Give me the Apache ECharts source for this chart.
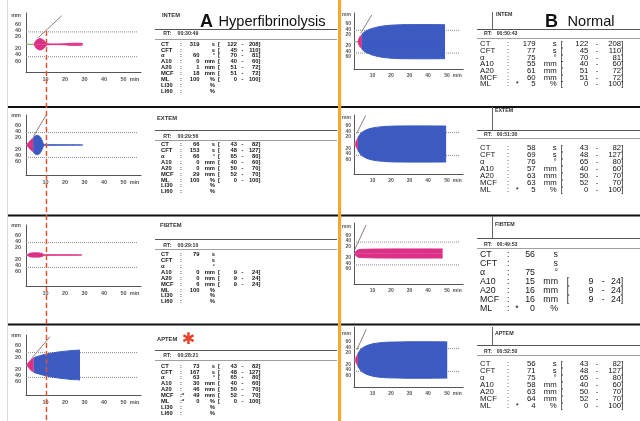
<!DOCTYPE html>
<html><head><meta charset="utf-8">
<script src="https://cdn.jsdelivr.net/npm/echarts@6/dist/echarts.min.js"></script>
<style>html,body{margin:0;padding:0;background:#fff}#c{width:640px;height:421px}</style>
</head><body><div id="c"></div><script>
// ROTEM thromboelastometry: hyperfibrinolysis (A) versus a normal trace (B)

const tests = ['INTEM', 'EXTEM', 'FIBTEM', 'APTEM'];
const params = ['CT', 'CFT', 'α', 'A10', 'A20', 'MCF', 'ML', 'LI30', 'LI60'];
const units = ['s', 's', '°', 'mm', 'mm', 'mm', '%', '%', '%'];

const xTickValues = [10, 20, 30, 40, 50];
const xTickText = ['10', '20', '30', '40', '50 min'];
const yTickPos = [47, 31.5, 22, 12.5, -7.5, -17, -27];      // half-amplitude, mm
const yTickText = ['mm', '60', '40', '20', '20', '40', '60'];
const guideLevels = [20, -20];

const rtHyper = ['00:30:49', '00:29:56', '00:29:10', '00:28:21'];
const rtNormal = ['00:50:43', '00:51:30', '00:49:53', '00:52:50'];

// parameter results (null = not reported)
const intemHyperVals = [319, null, 60, 0, 1, 18, 100, null, null];
const extemHyperVals = [66, 153, 66, 0, 0, 29, 100, null, null];
const fibtemHyperVals = [79, null, null, 0, 0, 6, 100, null, null];
const aptemHyperVals = [73, 167, 63, 30, 46, 49, 0, null, null];
const intemNormVals = [179, 77, 75, 55, 61, 60, 5];
const extemNormVals = [58, 69, 76, 57, 63, 63, 5];
const fibtemNormVals = [56, null, 75, 15, 16, 16, 0];
const aptemNormVals = [56, 71, 75, 58, 63, 64, 4];

// reference ranges
const intemRef = [[122, 208], [45, 110], [70, 81], [40, 60], [51, 72], [51, 72], [0, 100]];
const extemRef = [[43, 82], [48, 127], [65, 80], [40, 60], [50, 70], [52, 70], [0, 100]];
const fibtemHyperRef = [null, null, null, [9, 24], [9, 24], [9, 24], null];
const fibtemNormRef = [null, null, null, [9, 24], [9, 24], [9, 24], null];
const aptemRef = [[43, 82], [48, 127], [65, 80], [40, 60], [50, 70], [52, 70], [0, 100]];

// flagged results
const aptemHyperFlags = ['MCF', 'ML'];
const normalFlags = ['ML'];

// clot amplitude traces: [minutes, amplitude mm]
const intemHyperAmp = [[4.2, 0], [4.6, 7], [5.2, 12], [6.0, 16], [7.0, 18.5], [8.0, 17.5], [8.9, 14], [9.7, 9], [10.3, 5], [10.9, 2], [12, 1.2], [16, 1], [20, 1.5], [22, 3], [26, 3.5], [28.5, 3], [29.2, 0.5]];
const extemHyperAmp = [[0.5, 0], [1.2, 7], [2.0, 13], [2.8, 18], [3.65, 22], [4.3, 27], [5.1, 30.5], [6.0, 31], [6.8, 29], [7.5, 24], [8.1, 17], [8.6, 9], [9.0, 3], [9.5, 0.6], [29.1, 0.6]];
const fibtemHyperAmp = [[0.6, 0], [1.2, 3], [2.0, 5.5], [3.0, 6.5], [5.0, 7], [7.0, 6.5], [8.2, 5], [8.9, 2.5], [9.4, 0.8], [10, 0.6], [28.6, 0.6]];
const aptemHyperAmp = [[0.6, 0], [1.2, 7], [2.0, 13.5], [3.0, 19.5], [4.0, 23], [5.5, 27], [7.2, 30], [9.5, 34], [12.3, 37.5], [16, 41.5], [20, 44.5], [24, 47], [27.7, 48.5]];
const intemNormAmp = [[2.2, 0], [2.6, 10], [3.2, 18], [4.27, 25], [5, 31], [6, 36], [7.5, 41], [10, 47], [13, 52], [16, 55.5], [20, 58], [25, 59.5], [32, 60], [40, 60], [49.2, 59.5]];
const extemNormAmp = [[0.8, 0], [1.2, 10], [1.6, 16], [2.12, 22], [2.8, 30], [3.5, 36], [4.5, 42], [6, 48], [8, 53], [10.5, 57], [14, 60], [18, 62], [22, 63], [30, 63.5], [40, 63.5], [49.8, 63]];
const fibtemNormAmp = [[0.6, 0], [1.0, 7], [1.6, 11], [2.5, 13.5], [4, 14.5], [7, 15], [11, 15.5], [20, 16], [30, 16], [40, 16], [47.9, 16]];
const aptemNormAmp = [[0.8, 0], [1.2, 10], [1.6, 16], [2.12, 22], [2.8, 30], [3.5, 36], [4.5, 42], [6, 48], [8, 53], [10.5, 57.5], [14, 60.5], [18, 62.5], [22, 63], [30, 64], [40, 64], [50.4, 63.5]];

// alpha-angle tangents: [minutes, amplitude mm]
const intemHyperAlpha = [[6.3, 21.5], [18.3, 92]];
const extemHyperAlpha = [[3.7, 26.8], [10.3, 96]];
const fibtemHyperAlpha = [];
const aptemHyperAlpha = [[2.9, 21.6], [12.3, 91]];
const intemNormAlpha = [[3.6, 29.5], [9.6, 93.7]];
const extemNormAlpha = [[1.5, 37.5], [6.3, 100]];
const fibtemNormAlpha = [[0.5, 14.7], [6.5, 100]];
const aptemNormAlpha = [[1.5, 35], [6.6, 108]];

const markerMinute = 10.5;   // dashed reference across the hyperfibrinolysis traces

const PINK = '#dc2f86', BLUE = '#3b5ac2', GREEN = '#7cbf78', ALPHA = '#8d7f79';
const AXIS = '#555', TEXT = '#151515';
const X_MAX = 59;

const panels = [
  { vals: intemHyperVals, refs: intemRef, flags: [], rt: rtHyper[0], amp: intemHyperAmp, alpha: intemHyperAlpha },
  { vals: extemHyperVals, refs: extemRef, flags: [], rt: rtHyper[1], amp: extemHyperAmp, alpha: extemHyperAlpha },
  { vals: fibtemHyperVals, refs: fibtemHyperRef, flags: [], rt: rtHyper[2], amp: fibtemHyperAmp, alpha: fibtemHyperAlpha },
  { vals: aptemHyperVals, refs: aptemRef, flags: aptemHyperFlags, rt: rtHyper[3], amp: aptemHyperAmp, alpha: aptemHyperAlpha },
  { vals: intemNormVals, refs: intemRef, flags: normalFlags, rt: rtNormal[0], amp: intemNormAmp, alpha: intemNormAlpha },
  { vals: extemNormVals, refs: extemRef, flags: normalFlags, rt: rtNormal[1], amp: extemNormAmp, alpha: extemNormAlpha },
  { vals: fibtemNormVals, refs: fibtemNormRef, flags: normalFlags, rt: rtNormal[2], amp: fibtemNormAmp, alpha: fibtemNormAlpha },
  { vals: aptemNormVals, refs: aptemRef, flags: normalFlags, rt: rtNormal[3], amp: aptemNormAmp, alpha: aptemNormAlpha }
];

// plot frames: axis origin, top/bottom of the y axis, baseline row, px per minute, px per mm
const frames = [
  { left: 26, top: 13, bottom: 72, base: 44.3, ppm: 1.95, pmm: 0.62 },
  { left: 26, top: 115, bottom: 175, base: 145, ppm: 1.95, pmm: 0.62 },
  { left: 26, top: 225, bottom: 286, base: 255, ppm: 1.95, pmm: 0.62 },
  { left: 26, top: 335, bottom: 395, base: 365, ppm: 1.95, pmm: 0.62 },
  { left: 354, top: 13, bottom: 69, base: 41.7, ppm: 1.85, pmm: 0.57 },
  { left: 354, top: 115, bottom: 174, base: 144, ppm: 1.85, pmm: 0.57 },
  { left: 354, top: 223, bottom: 284, base: 253.5, ppm: 1.85, pmm: 0.57 },
  { left: 354, top: 327, bottom: 387, base: 360, ppm: 1.85, pmm: 0.57 }
];

function xLabel(v) {
  const i = xTickValues.indexOf(v);
  const s = i < 0 ? '' : xTickText[i];
  const parts = s.split(' ');
  return parts.length > 1 ? '{pad|}{n|' + parts[0] + '}{u|' + parts[1] + '}' : s;
}
function yLabel(v) {
  const i = yTickPos.findIndex(p => Math.abs(p - v) < 1e-6);
  return i < 0 ? '' : yTickText[i];
}
function pinkUntil(vals) {
  return vals[1] == null ? Infinity : (vals[0] + vals[1]) / 60;
}

const grids = [], xAxes = [], yAxes = [], series = [];
panels.forEach((p, i) => {
  const f = frames[i];
  const left = i < 4;
  const fs = left ? 5.5 : 5;
  grids.push({ left: f.left, top: f.top, width: X_MAX * f.ppm, height: f.bottom - f.top, containLabel: false, outerBoundsMode: 'none' });
  xAxes.push({
    gridIndex: i, type: 'value', min: 0, max: X_MAX,
    axisLine: { onZero: false, lineStyle: { color: AXIS, width: 1 } },
    axisTick: { show: false }, splitLine: { show: false },
    axisLabel: {
      customValues: xTickValues, formatter: xLabel, margin: 4,
      fontSize: fs, fontWeight: 'bold', color: AXIS, fontFamily: 'Liberation Sans',
      rich: {
        pad: { width: 13 },
        n: { fontSize: fs, fontWeight: 'bold', color: AXIS, fontFamily: 'Liberation Sans' },
        u: { fontSize: fs, fontWeight: 'bold', color: AXIS, fontFamily: 'Liberation Sans', padding: [0, 0, 0, 3] }
      }
    }
  });
  yAxes.push({
    gridIndex: i, type: 'value',
    min: -(f.bottom - f.base) / f.pmm, max: (f.base - f.top) / f.pmm,
    axisLine: { show: true, onZero: false, lineStyle: { color: AXIS, width: 1 } },
    axisTick: { show: false }, splitLine: { show: false },
    axisLabel: {
      customValues: yTickPos, formatter: yLabel, margin: left ? 5 : 3,
      fontSize: fs, fontWeight: 'bold', color: AXIS, fontFamily: 'Liberation Sans'
    }
  });

  const line = (data, color, extra) => Object.assign({
    type: 'line', xAxisIndex: i, yAxisIndex: i, data, symbol: 'none', silent: true,
    animation: false, lineStyle: { color, width: 1 }
  }, extra || {});

  // dotted amplitude guides
  guideLevels.forEach(v => series.push(line([[0, v], [57, v]], '#8a8a8a', {
    z: 1, lineStyle: { color: '#8a8a8a', width: 1, type: 'dotted' }
  })));
  series.push(line([[0, 0], [p.amp[0][0], 0]], GREEN, { z: 3, lineStyle: { color: GREEN, width: 1.2 } }));
  if (p.alpha.length) series.push(line(p.alpha.map(d => [d[0], d[1] / 2]), ALPHA, { z: 2 }));

  const split = pinkUntil(p.vals);
  const pink = p.amp.filter(d => d[0] <= split + 0.02);
  const blue = p.amp.filter(d => d[0] >= split - 0.02);
  [[pink, PINK], [blue, BLUE]].forEach(([pts, col]) => {
    if (pts.length < 2) return;
    [1, -1].forEach(sgn => series.push(line(pts.map(d => [d[0], sgn * d[1] / 2]), col, {
      z: 3, smooth: 0.35, smoothMonotone: 'x',
      lineStyle: { color: col, width: 1 },
      areaStyle: { color: col, opacity: 1, origin: sgn > 0 ? -0.5 : 'auto' }
    })));
  });
});

// ---- text panels -------------------------------------------------------
function txt(s, x, y, o) {
  o = o || {};
  const align = o.align || 'left';
  return {
    type: 'text', silent: true, z: o.z || 10,
    style: {
      text: s, x, y, fill: o.color || TEXT,
      fontSize: o.size || 6, fontWeight: o.weight || 'normal',
      fontFamily: o.family || 'Liberation Sans',
      align, verticalAlign: 'middle', textAlign: align, textVerticalAlign: 'middle'
    }
  };
}
function hline(x1, x2, y, color, w) {
  return { type: 'line', silent: true, z: 5, shape: { x1, y1: y, x2, y2: y }, style: { stroke: color, lineWidth: w || 1 } };
}
function vline(x, y1, y2, color, w, dash) {
  return { type: 'line', silent: true, z: 5, shape: { x1: x, y1, x2: x, y2 }, style: { stroke: color, lineWidth: w || 1, lineDash: dash || null } };
}

const leftCols = { label: 161, colon: 180, val: 199.5, unit: 215, lb: 218, lo: 237, dash: 242.5, hi: 260.5 };
const leftLayout = [
  { tx: 162, ty: 15, l1: 29.5, rty: 34, l2: 39.5, row0: 44, step: 5.9 },
  { tx: 157, ty: 118.3, l1: 130.5, rty: 136.2, l2: 140.5, row0: 144.5, step: 5.9 },
  { tx: 160, ty: 225, l1: 239.5, rty: 245.2, l2: 249.5, row0: 254.5, step: 5.9 },
  { tx: 157, ty: 339, l1: 350.5, rty: 355.5, l2: 360.5, row0: 366, step: 5.9 }
];
const colsB = { label: 480, colon: 507, star: 517.3, val: 535.7, unit: 556.7, lb: 560.7, lo: 588.3, dash: 597, hi: 623.3 };
const colsB3 = { label: 480, colon: 507, star: 517, val: 535, unit: 558, lb: 566.7, lo: 593.3, dash: 603.3, hi: 623.3 };
const rightLayout = [
  { vx: 492.5, vy1: 12, vy2: 29.5, tx: 496, ty: 15, l1: 29.5, rty: 33.7, l2: 38.5, row0: 44, step: 6.7, fs: 7.8, cols: colsB },
  { vx: 492.5, vy1: 107, vy2: 130.5, tx: 495, ty: 110.5, l1: 130.5, rty: 134.8, l2: 138.5, row0: 147.5, step: 7, fs: 7.8, cols: colsB },
  { vx: 492.5, vy1: 216, vy2: 238.5, tx: 495, ty: 225, l1: 238.5, rty: 244.5, l2: 248.5, row0: 255, step: 9, fs: 8.8, cols: colsB3 },
  { vx: 492.5, vy1: 327, vy2: 345.5, tx: 495, ty: 333.3, l1: 345.5, rty: 351.2, l2: 355.5, row0: 363.5, step: 7, fs: 7.8, cols: colsB }
];

const G = [];
// frame rules
G.push(vline(7.5, 0, 421, '#dcdcdc', 1));
[107, 215.5, 324.5].forEach(y => {
  G.push(hline(8, 340, y, '#111', 2.2));
  G.push(hline(340, 640, y, '#111', 2.2));
});
G.push({ type: 'rect', silent: true, z: 8, shape: { x: 338, y: 0, width: 3.2, height: 421 }, style: { fill: '#f0a935' } });

// headings
G.push(txt('A', 200, 21.8, { size: 18, weight: 'bold', color: '#111', z: 12 }));
G.push(txt('Hyperfibrinolysis', 218.5, 22.3, { size: 14.6, color: '#111', z: 12 }));
G.push(txt('B', 545, 21.8, { size: 18, weight: 'bold', color: '#111', z: 12 }));
G.push(txt('Normal', 567.5, 22.3, { size: 14.6, color: '#111', z: 12 }));

function addTable(pi, L, C, fs, nRows, rightSide) {
  const p = panels[pi];
  const name = tests[pi % 4];
  const x1 = rightSide ? 477 : 155, x2 = rightSide ? 640 : 337;
  G.push(txt(name, L.tx, L.ty, { size: rightSide ? 5.3 : 5.8, weight: 'bold', color: '#333' }));
  G.push(hline(x1, x2, L.l1, '#555', 1));
  G.push(hline(x1, x2, L.l2, '#a0a0a0', 1));
  G.push(txt('RT:', rightSide ? 484 : 163.3, L.rty, { size: 5.2, weight: 'bold', color: '#333' }));
  G.push(txt(p.rt, rightSide ? 496.7 : 177.5, L.rty, { size: 5.2, weight: 'bold', color: '#333' }));
  const w = rightSide ? 'normal' : 'bold';
  for (let r = 0; r < nRows; r++) {
    const y = L.row0 + r * L.step;
    const flagged = p.flags.indexOf(params[r]) >= 0;
    G.push(txt(params[r], C.label, y, { size: fs, weight: w }));
    if (rightSide) {
      G.push(txt(':', C.colon, y, { size: fs, weight: w }));
      if (flagged) G.push(txt('*', C.star, y, { size: fs, weight: w, align: 'center' }));
    } else {
      G.push(txt(flagged ? ':*' : ':', C.colon, y, { size: fs, weight: w }));
    }
    const v = p.vals[r];
    if (v != null) G.push(txt(String(v), C.val, y, { size: fs, weight: w, align: 'right' }));
    G.push(txt(units[r], C.unit, y, { size: fs, weight: w, align: 'right' }));
    const ref = p.refs[r];
    if (ref) {
      G.push(txt('[', C.lb, y, { size: fs, weight: w }));
      G.push(txt(String(ref[0]), C.lo, y, { size: fs, weight: w, align: 'right' }));
      G.push(txt('-', C.dash, y, { size: fs, weight: w, align: 'center' }));
      G.push(txt(ref[1] + ']', C.hi, y, { size: fs, weight: w, align: 'right' }));
    }
  }
}
for (let k = 0; k < 4; k++) addTable(k, leftLayout[k], leftCols, 5.8, 9, false);
for (let k = 0; k < 4; k++) {
  const L = rightLayout[k];
  G.push(vline(L.vx, L.vy1, L.vy2, '#666', 1));
  addTable(k + 4, L, L.cols, L.fs, 7, true);
}
// flagged hyperfibrinolysis APTEM run
G.push(txt('✱', 188.5, 339.5, { size: 16, color: '#e8442b', align: 'center', family: 'DejaVu Sans', z: 12 }));

const chart = echarts.init(document.getElementById('c'), null, { renderer: 'canvas', width: 640, height: 421 });
chart.setOption({
  animation: false,
  backgroundColor: '#ffffff',
  grid: grids, xAxis: xAxes, yAxis: yAxes, series: series
});

// dashed marker through the left-hand traces, placed from the time axis
const mx = chart.convertToPixel({ xAxisIndex: 0 }, markerMinute);
G.push(Object.assign(vline(mx, 31, 421, '#e4512f', 1.5, [5, 3]), { z: 50 }));
chart.setOption({ graphic: { elements: G } });
</script></body></html>
